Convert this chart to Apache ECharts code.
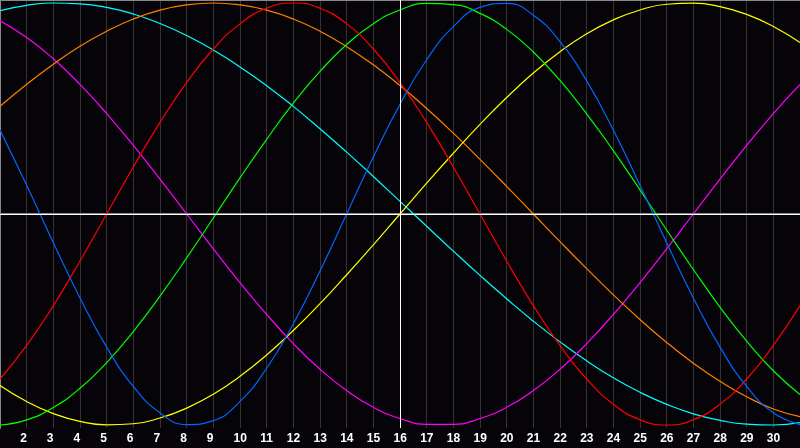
<!DOCTYPE html>
<html>
<head>
<meta charset="utf-8">
<script src="https://cdn.jsdelivr.net/npm/echarts@6/dist/echarts.min.js"></script>
<style>html,body{margin:0;padding:0;background:#060408;}#c{width:800px;height:448px;}</style>
</head>
<body>
<div id="c"></div>
<script>
var days = [1,2,3,4,5,6,7,8,9,10,11,12,13,14,15,16,17,18,19,20,21,22,23,24,25,26,27,28,29,30,31];
var blue = [0.398,0.136,-0.136,-0.398,-0.631,-0.817,-0.942,-0.998,-0.979,-0.888,-0.731,-0.520,-0.270,0.000,0.270,0.520,0.731,0.888,0.979,0.998,0.942,0.817,0.631,0.398,0.136,-0.136,-0.398,-0.631,-0.817,-0.942,-0.998];
var red = [-0.782,-0.623,-0.434,-0.223,0,0.223,0.434,0.623,0.782,0.901,0.975,1,0.975,0.901,0.782,0.623,0.434,0.223,0,-0.223,-0.434,-0.623,-0.782,-0.901,-0.975,-1,-0.975,-0.901,-0.782,-0.623,-0.434];
var green = [-1.000,-0.976,-0.917,-0.826,-0.704,-0.557,-0.389,-0.208,-0.019,0.171,0.354,0.525,0.676,0.803,0.902,0.967,0.998,0.992,0.951,0.875,0.768,0.633,0.475,0.300,0.114,-0.076,-0.263,-0.441,-0.603,-0.743,-0.856];
var magenta = [0.916,0.837,0.736,0.614,0.476,0.325,0.165,0,-0.165,-0.325,-0.476,-0.614,-0.736,-0.837,-0.916,-0.969,-0.997,-0.997,-0.969,-0.916,-0.837,-0.736,-0.614,-0.476,-0.325,-0.165,0,0.165,0.325,0.476,0.614];
var yellow = [-0.813,-0.889,-0.946,-0.983,-0.999,-0.994,-0.967,-0.920,-0.854,-0.769,-0.668,-0.552,-0.425,-0.288,-0.146,0,0.146,0.288,0.425,0.552,0.668,0.769,0.854,0.920,0.967,0.994,0.999,0.983,0.946,0.889,0.813];
var orange = [0.51,0.615,0.71,0.795,0.866,0.924,0.966,0.991,1,0.991,0.966,0.924,0.866,0.793,0.707,0.609,0.5,0.383,0.259,0.131,0,-0.131,-0.259,-0.383,-0.5,-0.609,-0.707,-0.793,-0.866,-0.924,-0.960];
var cyan = [0.964,0.989,1.000,0.996,0.979,0.948,0.903,0.846,0.777,0.697,0.608,0.510,0.404,0.293,0.178,0.060,-0.058,-0.176,-0.291,-0.402,-0.508,-0.606,-0.696,-0.776,-0.845,-0.902,-0.947,-0.978,-0.996,-1.000,-0.989];
var tickLabels = ['2','3','4','5','6','7','8','9','10','11','12','13','14','15','16','17','18','19','20','21','22','23','24','25','26','27','28','29','30'];
var todayDay = 16;

function pairs(arr){ return days.map(function(d,i){ return [d, arr[i]]; }); }
function line(name, arr, color){
  return {name:name, type:'line', data:pairs(arr), smooth:true, showSymbol:false, symbol:'none',
    lineStyle:{color:color, width:1.2}, itemStyle:{color:color}, silent:true};
}
var chart = echarts.init(document.getElementById('c'), null, {renderer:'canvas'});
var series = [
  line('cyan', cyan, '#00ffff'),
  line('magenta', magenta, '#ff00ff'),
  line('orange', orange, '#ff8000'),
  line('yellow', yellow, '#ffff00'),
  line('green', green, '#00ff00'),
  line('red', red, '#ff0000'),
  line('blue', blue, '#0066ff')
];
series.push({type:'line', data:[], silent:true,
  markLine:{silent:true, symbol:'none', label:{show:false}, animation:false,
    lineStyle:{color:'#ffffff', width:1, type:'solid'},
    data:[{xAxis: todayDay}, {yAxis: 0}]}});
chart.setOption({
  animation:false,
  backgroundColor:'#060408',
  grid:{left:0, right:0, top:0, bottom:20, containLabel:false},
  xAxis:[{
    type:'value', min:1, max:31, interval:1,
    axisLine:{show:true, lineStyle:{color:'#8a8a8a', width:2}},
    axisTick:{show:false},
    splitLine:{show:true, lineStyle:{color:'#333333', width:1}},
    axisLabel:{show:true, showMinLabel:false, showMaxLabel:false, margin:5,
      color:'#ffffff', fontFamily:'Liberation Sans', fontWeight:'bold', fontSize:12,
      formatter:function(v){ var s=String(v); return tickLabels.indexOf(s)>=0 ? '{a|'+s+'}' : ''; },
      rich:{a:{width:13, align:'left', color:'#ffffff', fontFamily:'Liberation Sans', fontWeight:'bold', fontSize:12}}}
  },{
    type:'value', min:1, max:31, position:'top',
    axisLine:{show:true, lineStyle:{color:'#8a8a8a', width:2}},
    axisTick:{show:false}, axisLabel:{show:false}, splitLine:{show:false}
  }],
  yAxis:{
    type:'value', min:-1.0142, max:1.0142,
    axisLine:{show:true, lineStyle:{color:'#8a8a8a', width:2}},
    axisTick:{show:false}, axisLabel:{show:false}, splitLine:{show:false}
  },
  series:series
});
</script>
</body>
</html>
